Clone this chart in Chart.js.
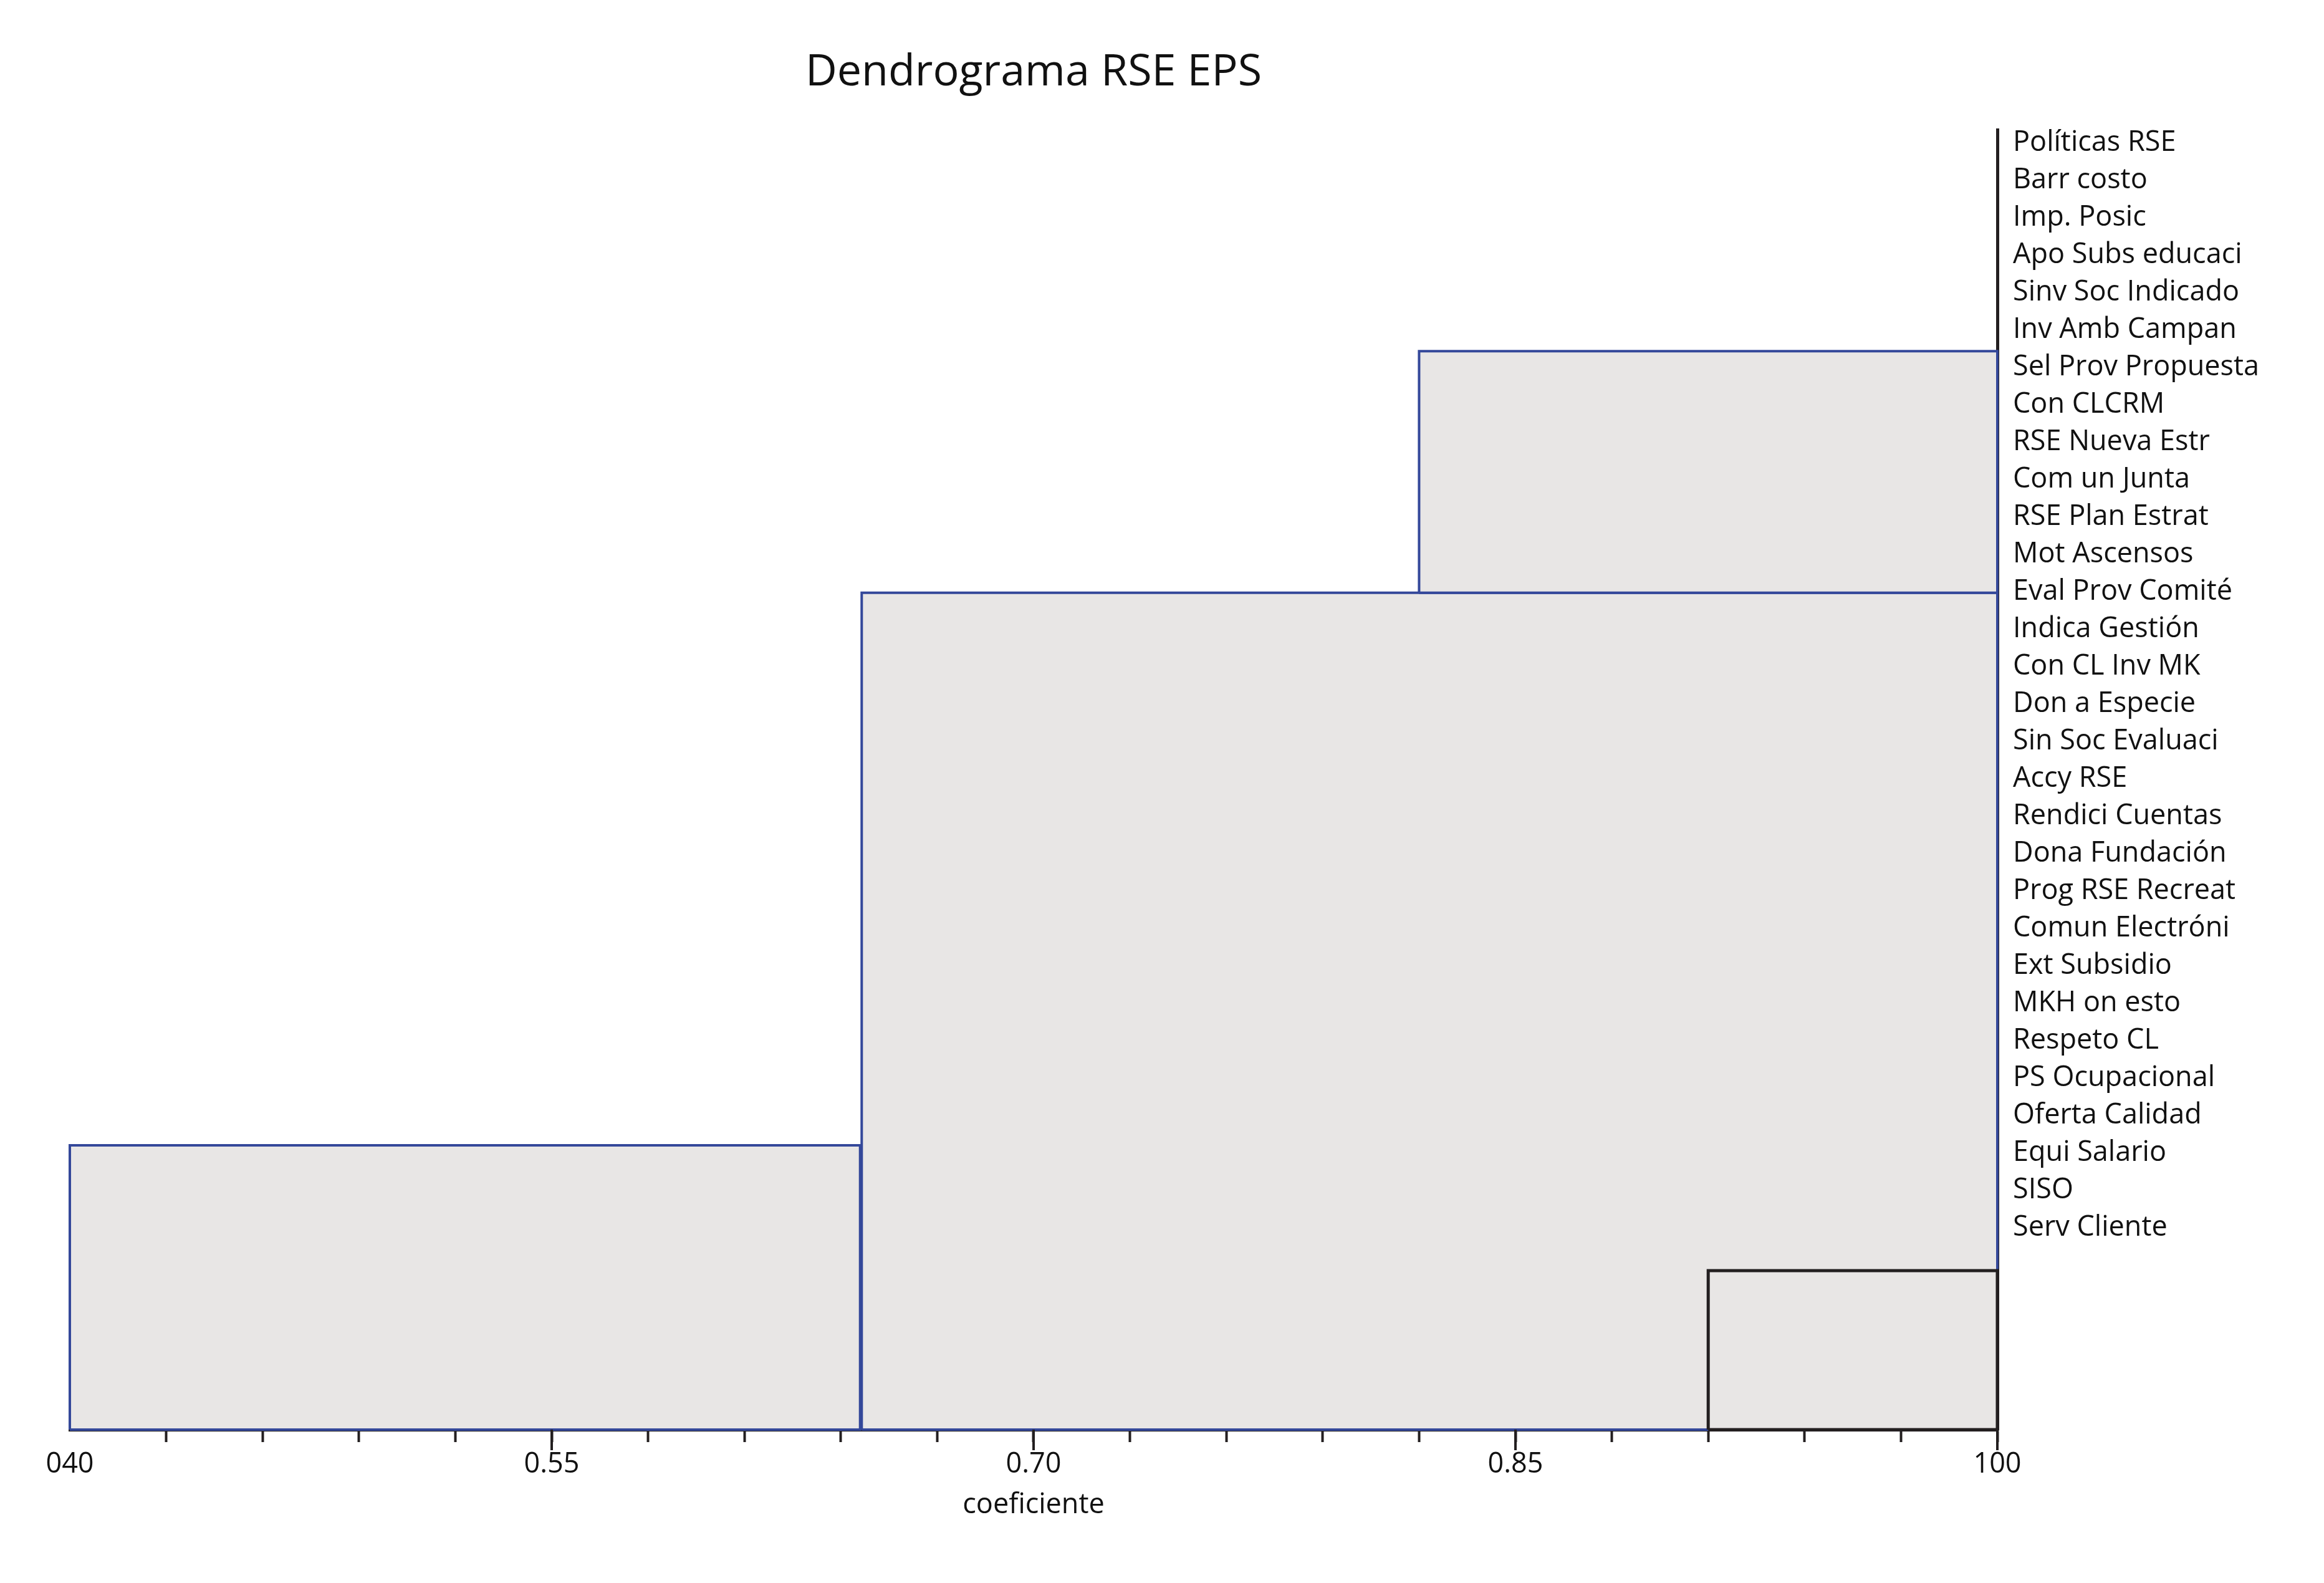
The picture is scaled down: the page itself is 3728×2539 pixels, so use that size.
<!DOCTYPE html>
<html>
<head>
<meta charset="utf-8">
<title>Dendrograma RSE EPS</title>
<script src="https://cdn.jsdelivr.net/npm/chart.js@4.4.0/dist/chart.umd.min.js"></script>
<style>
  body { margin: 0; background: #fff; }
  canvas { display: block; }
</style>
</head>
<body>
<canvas id="dendro" width="3728" height="2539"></canvas>
<script>
// variables, top to bottom, as listed on the right
var leaves = [
  'Políticas RSE', 'Barr costo', 'Imp. Posic', 'Apo Subs educaci', 'Sinv Soc Indicado',
  'Inv Amb Campan', 'Sel Prov Propuesta', 'Con CLCRM', 'RSE Nueva Estr', 'Com un Junta',
  'RSE Plan Estrat', 'Mot Ascensos', 'Eval Prov Comité', 'Indica Gestión', 'Con CL Inv MK',
  'Don a Especie', 'Sin Soc Evaluaci', 'Accy RSE', 'Rendici Cuentas', 'Dona Fundación',
  'Prog RSE Recreat', 'Comun Electróni', 'Ext Subsidio', 'MKH on esto', 'Respeto CL',
  'PS Ocupacional', 'Oferta Calidad', 'Equi Salario', 'SISO', 'Serv Cliente'
];

// coeficiente axis
var xMin = 0.40, xMax = 1.00, xStep = 0.03;
var xMajor = [0.40, 0.55, 0.70, 0.85, 1.00];
var xMajorLabels = ['040', '0.55', '0.70', '0.85', '100'];

// row axis (1 = first variable at the top)
var rowMin = 0.65, rowMax = 35.4;

// blocks of the dendrogram (left coef, right coef, top row, bottom row)
var blockLeft = [0.40, 0.6465, 0.820, 0.910];
var blockRight = [0.646, 1.00, 1.00, 1.00];
var blockTop = [27.8, 13.03, 6.57, 31.15];
var blockBottom = [35.4, 35.4, 13.03, 35.4];
var blockColor = ['#34489a', '#34489a', '#34489a', '#231f20'];

var ink = '#231f20';
Chart.defaults.font.family = "'Open Sans', sans-serif";
Chart.defaults.color = '#111';

var datasets = blockLeft.map(function (x0, i) {
  var x1 = blockRight[i], top = blockTop[i], bot = blockBottom[i];
  return {
    label: 'bloque ' + (i + 1),
    data: [{x: x0, y: bot}, {x: x0, y: top}, {x: x1, y: top}, {x: x1, y: bot}, {x: x0, y: bot}],
    borderColor: blockColor[i],
    borderWidth: i === 3 ? 5 : 4,
    backgroundColor: '#e8e6e5',
    fill: 'shape',
    tension: 0,
    pointRadius: 0,
    pointHoverRadius: 0,
    borderJoinStyle: 'miter',
    clip: false,
    order: blockLeft.length - i
  };
});

// longer marks for the labelled ticks
var majorTicks = {
  id: 'majorTicks',
  afterDraw: function (chart) {
    var sx = chart.scales.x, ctx = chart.ctx;
    ctx.save();
    ctx.strokeStyle = ink;
    ctx.lineWidth = 4;
    xMajor.forEach(function (v, i) {
      if (i === 0) return;
      var px = sx.getPixelForValue(v);
      ctx.beginPath();
      ctx.moveTo(px, sx.top);
      ctx.lineTo(px, sx.top + 33);
      ctx.stroke();
    });
    ctx.restore();
  }
};

new Chart(document.getElementById('dendro'), {
  type: 'line',
  data: { datasets: datasets },
  plugins: [majorTicks],
  options: {
    responsive: false,
    animation: false,
    events: [],
    layout: { padding: { left: 112, right: 0, top: 0, bottom: 0 } },
    plugins: {
      legend: { display: false },
      tooltip: { enabled: false },
      title: {
        display: true,
        text: 'Dendrograma RSE EPS',
        fullSize: false,
        color: '#111',
        font: { size: 70, weight: 'normal' },
        padding: { top: 75, bottom: 49 }
      }
    },
    scales: {
      x: {
        type: 'linear',
        position: 'bottom',
        min: xMin,
        max: xMax,
        z: 1,
        afterBuildTicks: function (axis) {
          var t = [];
          for (var k = 0; k <= Math.round((xMax - xMin) / xStep); k++) {
            t.push({ value: +(xMin + k * xStep).toFixed(2) });
          }
          axis.ticks = t;
        },
        afterFit: function (axis) { axis.height = 246; },
        grid: {
          display: true,
          drawOnChartArea: false,
          drawTicks: true,
          tickLength: 20,
          tickWidth: 4,
          tickColor: function (c) { return c.index === 0 ? 'rgba(0,0,0,0)' : ink; }
        },
        border: { display: true, color: ink, width: 5 },
        ticks: {
          autoSkip: false,
          maxRotation: 0,
          padding: 9,
          color: '#111',
          font: { size: 45 },
          callback: function (v) {
            for (var i = 0; i < xMajor.length; i++) {
              if (Math.abs(v - xMajor[i]) < 1e-6) return xMajorLabels[i];
            }
            return '';
          }
        },
        title: {
          display: true,
          text: 'coeficiente',
          color: '#111',
          font: { size: 45 },
          padding: { top: 0, bottom: 98 }
        }
      },
      y: {
        type: 'linear',
        position: 'right',
        reverse: true,
        min: rowMin,
        max: rowMax,
        z: 1,
        afterBuildTicks: function (axis) {
          axis.ticks = leaves.map(function (n, i) { return { value: i + 1 }; });
        },
        afterFit: function (axis) { axis.width = 524; },
        grid: { display: false, drawTicks: false },
        border: { display: true, color: ink, width: 5 },
        ticks: {
          autoSkip: false,
          padding: 25,
          color: '#111',
          font: { size: 45 },
          callback: function (v, i) { return leaves[i]; }
        }
      }
    }
  }
});
</script>
</body>
</html>
